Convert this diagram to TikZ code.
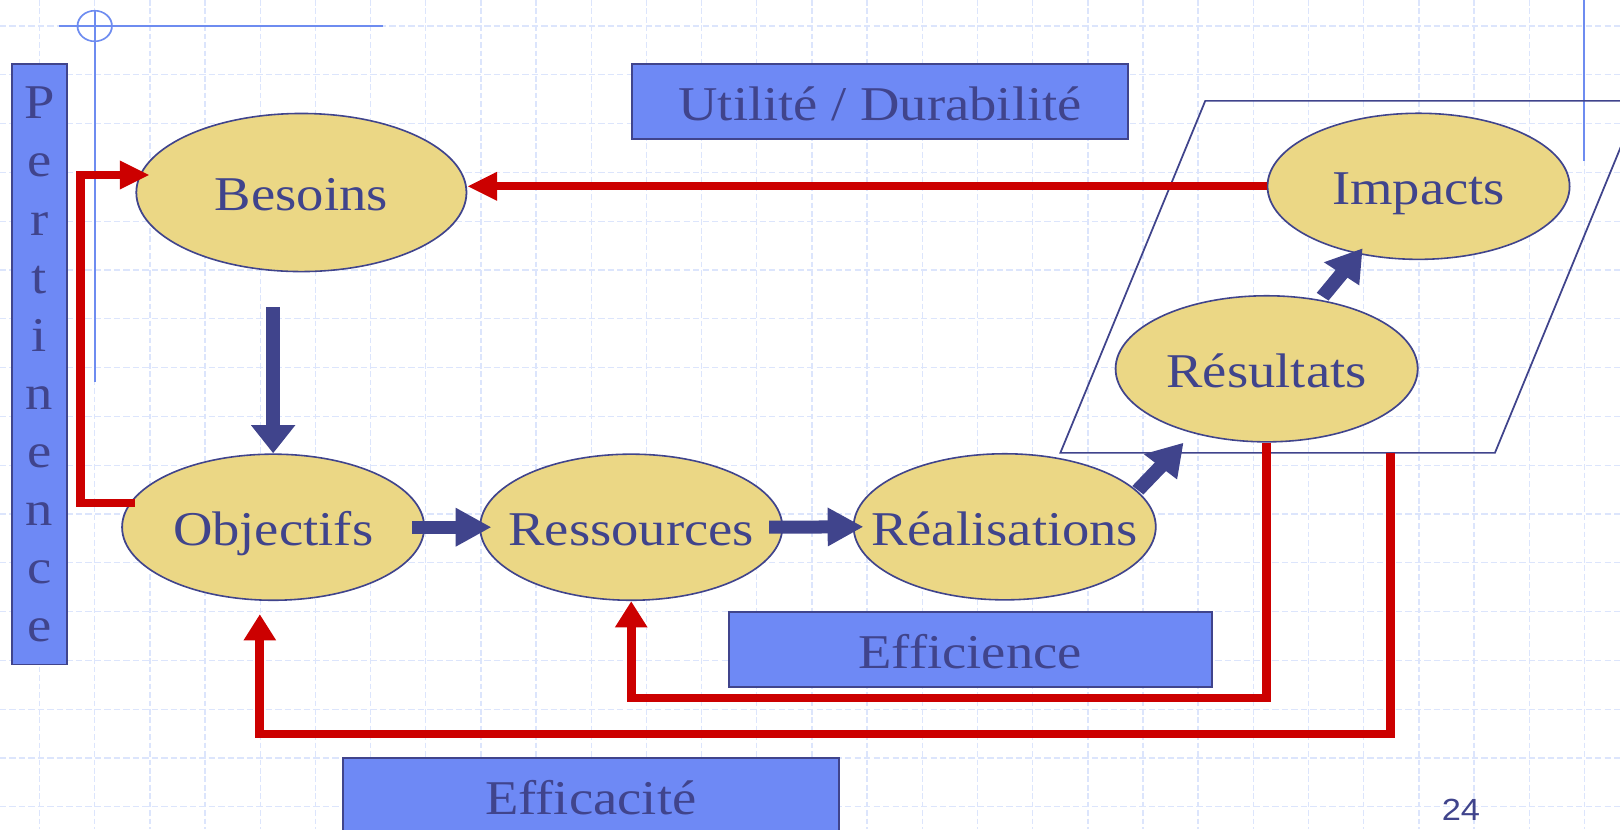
\documentclass[tikz,border=0pt]{standalone}
\usepackage{fontspec}
\setmainfont{Liberation Serif}
\newfontfamily\pagefont{Liberation Sans}
\usepackage{tikz}
\usetikzlibrary{arrows.meta,shapes.geometric,calc}
\usepackage{xcolor}
\definecolor{evblue}{RGB}{64,68,140}
\definecolor{evsand}{RGB}{235,215,133}
\definecolor{evbox}{RGB}{110,137,245}
\definecolor{evred}{RGB}{204,0,0}
\definecolor{evgrid}{RGB}{220,229,252}
\definecolor{evguide}{RGB}{110,140,240}
\tikzstyle{evtext} = [font=\fontsize{13.8}{16.5}\selectfont, text=evblue, text height=10.5pt, text depth=0pt]
\tikzstyle{stage} = [ellipse, draw=evblue, fill=evsand, line width=0.45pt, minimum width=2.684cm, minimum height=1.46cm, inner ysep=0pt, inner xsep=-2cm, evtext]
\tikzstyle{crit} = [rectangle, draw=evblue, fill=evbox, line width=0.5pt, minimum height=0.75cm, inner sep=0pt]
\tikzstyle{redarrow} = [line width=2.35pt, evred, -{Triangle[length=7.5pt,width=7.7pt]}]
\tikzstyle{bluearrow} = [line width=3.7pt, evblue, -{Triangle[length=9pt,width=10.4pt]}]
\tikzstyle{gridline} = [evgrid, line width=0.35pt, dash pattern=on 1.6pt off 0.8pt]
\tikzstyle{guide} = [evguide, line width=0.45pt]

\begin{document}
\begin{tikzpicture}[x=0.01cm, y=-0.01cm]
  % Page
  \fill[white] (0,0) rectangle (1620,829);
  \useasboundingbox (0,0) rectangle (1620,829);

  \begin{scope}[x=0.0088889cm, transform canvas={xscale=1.125}]
    % Grid
    \foreach \i in {0,...,28}
      \draw[gridline] ({39.5+55.1*\i},0) -- ({39.5+55.1*\i},829);
    \foreach \j in {0,...,16}
      \draw[gridline] (0,{26+48.8*\j}) -- (1620,{26+48.8*\j});

    % Slide guides
    \draw[guide] (58.5,26) -- (382,26);
    \draw[guide] (94.6,10.7) -- (94.6,382);
    \draw[guide] (94.6,26) circle [x radius=17.2, y radius=15.3];
    \draw[guide] (1582,0) -- (1582,161);

    % Long-term frame
    \coordinate (frametl) at (1203.7,100.8);
    \coordinate (framebl) at (1059,452.8);
    \draw[evblue, line width=0.45pt] (frametl) -- (1637.6,100.8) -- (1493,452.8) -- (framebl) -- cycle;
    \coordinate (effout) at (1388.7,452.8);

    % Criteria
    \node[crit, evtext, minimum width=4.409cm] (utilite) at (879,101.8) {Utilité / Durabilité};
    \node[crit, evtext, minimum width=4.293cm] (efficience) at (969,649.8) {Efficience};
    \node[crit, evtext, minimum width=4.409cm] (efficacite) at (590,795.7) {Efficacité};
    \node[crit, minimum width=0.493cm, minimum height=6cm, align=center, text=evblue,
      font=\fontsize{13.8}{16.5}\selectfont] (pertinence) at (39.3,364.4)
      {P\\e\\r\\t\\i\\n\\e\\n\\c\\e};

    % Stages
    \node[stage, minimum width=2.933cm, minimum height=1.58cm] (besoins) at (301,192.5) {Besoins};
    \node[stage] (objectifs) at (272.8,527.2) {Objectifs};
    \node[stage] (ressources) at (630.4,527.2) {Ressources};
    \node[stage] (realisations) at (1003.4,526.8) {Réalisations};
    \node[stage] (resultats) at (1265,368.8) {Résultats};
    \node[stage] (impacts) at (1416.7,186.3) {Impacts};

    % Feedback loops
    \draw[redarrow] (impacts.west) -- (impacts.west -| besoins.east);
    \draw[redarrow] ($(objectifs.center)+(-138,-24)$) -- ++(-54.5,0)
      |- ($(besoins.center)+(-151.7,-17.5)$);
    \draw[redarrow] (resultats.south) -- ++(0,255) -| (ressources.south);
    \draw[redarrow] (effout) -- ++(0,281) -| ($(objectifs.south)+(-13.3,13)$);

    % Chain
    \draw[bluearrow, -{Triangle[length=8pt,width=10.6pt]}] ($(objectifs.north)+(0,-146)$) -- (objectifs.north);
    \draw[bluearrow] ($(objectifs.east)+(-13,0)$) -- ($(ressources.west)+(12,0)$);
    \draw[bluearrow] ($(ressources.east)+(-14,0)$) -- ($(realisations.west)+(10.5,0)$);
    \draw[bluearrow] ($(realisations.center)+(133,-36.6)$) -- ($(resultats.center)+(-83,73.9)$);
    \draw[bluearrow] ($(resultats.center)+(55.9,-72.1)$) -- ($(impacts.center)+(-55.8,62)$);

    % Page number
    \node[anchor=base, text=evblue, font=\pagefont\fontsize{8.7}{10}\selectfont] (pagenum) at (1459,820.7) {24};
  \end{scope}
\end{tikzpicture}
\end{document}
